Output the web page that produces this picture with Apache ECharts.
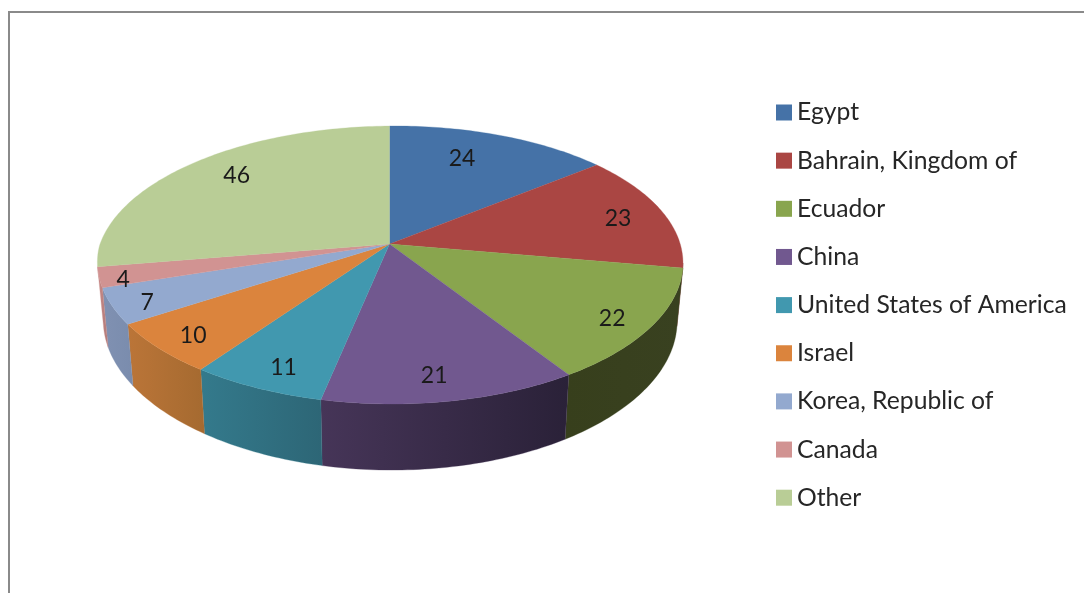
<!DOCTYPE html>
<html>
<head>
<meta charset="utf-8">
<style>html,body{margin:0;padding:0;background:#fff}#container{width:1084px;height:593px}</style>
<script src="https://cdn.jsdelivr.net/npm/echarts@6/dist/echarts.min.js"></script>
</head>
<body>
<div id="container"></div>
<script>
var categories = ['Egypt', 'Bahrain, Kingdom of', 'Ecuador', 'China', 'United States of America', 'Israel', 'Korea, Republic of', 'Canada', 'Other'];
var values = [24, 23, 22, 21, 11, 10, 7, 4, 46];

// top face colours and the left/right colours of the side wall
var colors = ['#4572a7', '#aa4643', '#89a54e', '#71588f', '#4198af', '#db843d', '#93a9cf', '#d19392', '#b9cd96'];
var wallColors = [
    ['#35567f', '#35567f'],
    ['#813532', '#813532'],
    ['#373f1c', '#394120'],
    ['#463558', '#2a2138'],
    ['#347a8c', '#2d6676'],
    ['#bb7538', '#a56a30'],
    ['#8091b2', '#7a8cad'],
    ['#c98a88', '#b07a78'],
    ['#a0b080', '#a0b080']
];
// label shift from the slice's mid radius, excel put them further out at the sides
var labelNudge = [[-10, -5], [31, -1], [38, 17], [2, 24], [-14, 24], [-35, 19], [-46, 15], [-59, 12], [-5, -10]];

var total = 0;
values.forEach(function (v) { total += v; });

var dom = document.getElementById('container');
var myChart = echarts.init(dom);

// the pie is a circle seen in perspective, so (u, v) on the unit circle goes through this
function project(u, v, bottom) {
    var d = 1 - 0.151 * v;
    var x = (290.1 * u + 10 * Math.max(v, 0) * (0.5 - 0.5 * u)) / d;
    var y = 135.8 * v / d - 2 * u;
    if (bottom) {
        return [389.5 + 0.98 * x, 244 + 57 + 1.057 * y];
    }
    return [389.5 + x, 244 + y];
}

function rim(fromDeg, toDeg, bottom) {
    var pts = [];
    var n = Math.max(2, Math.ceil(Math.abs(toDeg - fromDeg)));
    for (var i = 0; i <= n; i++) {
        var t = (fromDeg + (toDeg - fromDeg) * i / n) * Math.PI / 180;
        pts.push(project(Math.sin(t), -Math.cos(t), bottom));
    }
    return pts;
}

var series = [];
var cum = 0;
categories.forEach(function (name, i) {
    var start = cum / total * 360;
    cum += values[i];
    var end = cum / total * 360;
    series.push({
        name: name,
        type: 'custom',
        coordinateSystem: 'none',
        silent: true,
        data: [values[i]],
        renderItem: function (params, api) {
            var children = [];
            // only the front part of the wall shows
            var a = Math.max(start, 98.7);
            var b = Math.min(end, 261.3);
            if (b > a) {
                children.push({
                    type: 'polygon',
                    shape: {points: rim(a, b, false).concat(rim(b, a, true))},
                    style: {
                        fill: new echarts.graphic.LinearGradient(0, 0, 1, 0, [
                            {offset: 0, color: wallColors[i][0]},
                            {offset: 1, color: wallColors[i][1]}
                        ]),
                        stroke: wallColors[i][0],
                        lineWidth: 0.3
                    }
                });
            }
            children.push({
                type: 'polygon',
                shape: {points: [project(0, 0, false)].concat(rim(start, end, false))},
                style: {fill: colors[i], stroke: colors[i], lineWidth: 0.3}
            });
            var mid = (start + end) / 2 * Math.PI / 180;
            var p = project(0.72 * Math.sin(mid), -0.72 * Math.cos(mid), false);
            children.push({
                type: 'text',
                x: p[0] + labelNudge[i][0],
                y: p[1] + labelNudge[i][1],
                style: {
                    text: String(api.value(0)),
                    fill: '#1a1a1a',
                    font: '23px Lato',
                    align: 'center',
                    verticalAlign: 'middle'
                }
            });
            return {type: 'group', children: children};
        }
    });
});

option = {
    animation: false,
    backgroundColor: '#fff',
    color: colors,
    legend: {
        orient: 'vertical',
        left: 776,
        top: 100,
        padding: 0,
        itemWidth: 16,
        itemHeight: 16,
        itemGap: 23.15,
        icon: 'rect',
        selectedMode: false,
        data: categories,
        textStyle: {
            color: '#262626',
            fontFamily: 'Lato',
            fontSize: 24.7
        }
    },
    graphic: [{
        type: 'polyline',
        silent: true,
        shape: {points: [[9, 593], [9, 12], [1084, 12]]},
        style: {stroke: '#8a8a8a', lineWidth: 2, fill: null}
    }],
    series: series
};
myChart.setOption(option, true);
</script>
</body>
</html>
